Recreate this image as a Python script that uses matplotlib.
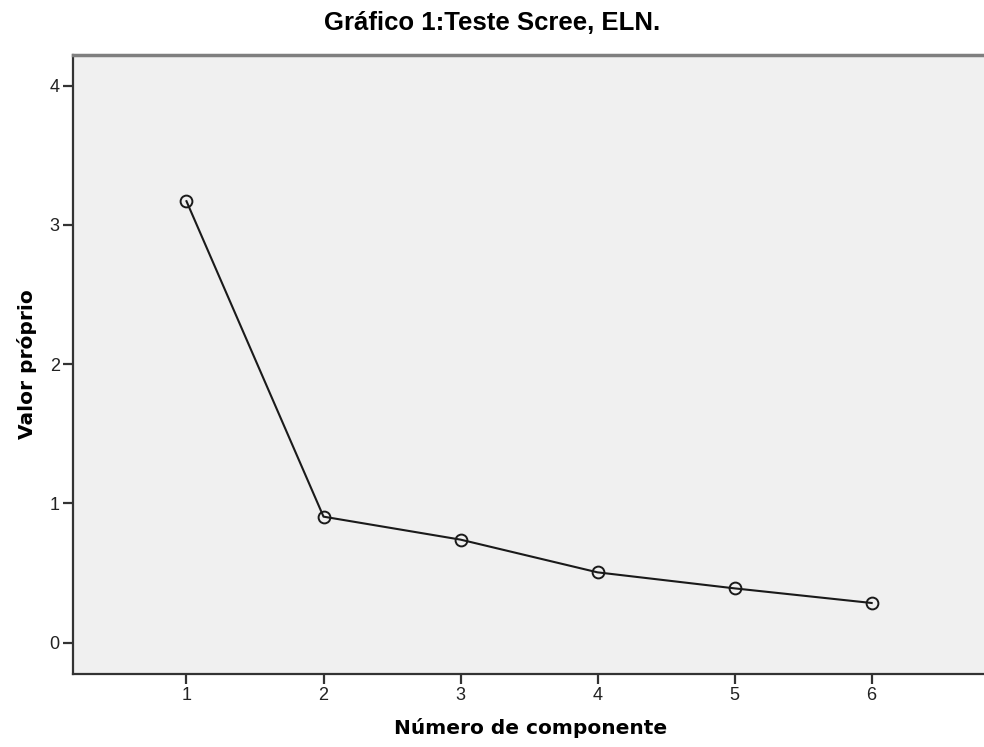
import numpy as np
import matplotlib.pyplot as plt

componente = [1, 2, 3, 4, 5, 6]
valor_proprio = [3.17, 0.905, 0.74, 0.505, 0.39, 0.285]
y_ticks = [0, 1, 2, 3, 4]

fig = plt.figure(figsize=(9.84, 7.47), dpi=100)
ax = fig.add_axes([0.0742, 0.0977, 0.93, 0.8287])
ax.set_facecolor('#f0f0f0')

ax.plot(componente, valor_proprio, color='#1a1a1a', linewidth=1.5,
        marker='o', markersize=8.5, markerfacecolor='none',
        markeredgecolor='#1a1a1a', markeredgewidth=1.4)

ax.set_xlim(0.172, 6.85)
ax.set_ylim(-0.225, 4.22)
ax.set_xticks(componente)
ax.set_yticks(y_ticks)
ax.tick_params(direction='out', length=7.5, width=1.6, color='#333333',
               labelsize=13, labelcolor='#222222', pad=2)
for lab in ax.get_xticklabels() + ax.get_yticklabels():
    lab.set_family('Liberation Sans')

for s in ['left', 'bottom']:
    ax.spines[s].set_color('#333333')
    ax.spines[s].set_linewidth(1.6)
ax.spines['top'].set_color('#7f7f7f')
ax.spines['top'].set_linewidth(2.5)
ax.spines['right'].set_visible(False)

ax.set_xlabel('Número de componente', fontsize=14.5, fontweight='bold',
              family='DejaVu Sans', labelpad=10)
ax.set_ylabel('Valor próprio', fontsize=14.5, fontweight='bold',
              family='DejaVu Sans', labelpad=9)
fig.suptitle('Gráfico 1:Teste Scree, ELN.', fontsize=18.5, fontweight='bold',
             family='Liberation Sans', x=0.5, y=0.985)

fig.savefig('out.png', dpi=100)
